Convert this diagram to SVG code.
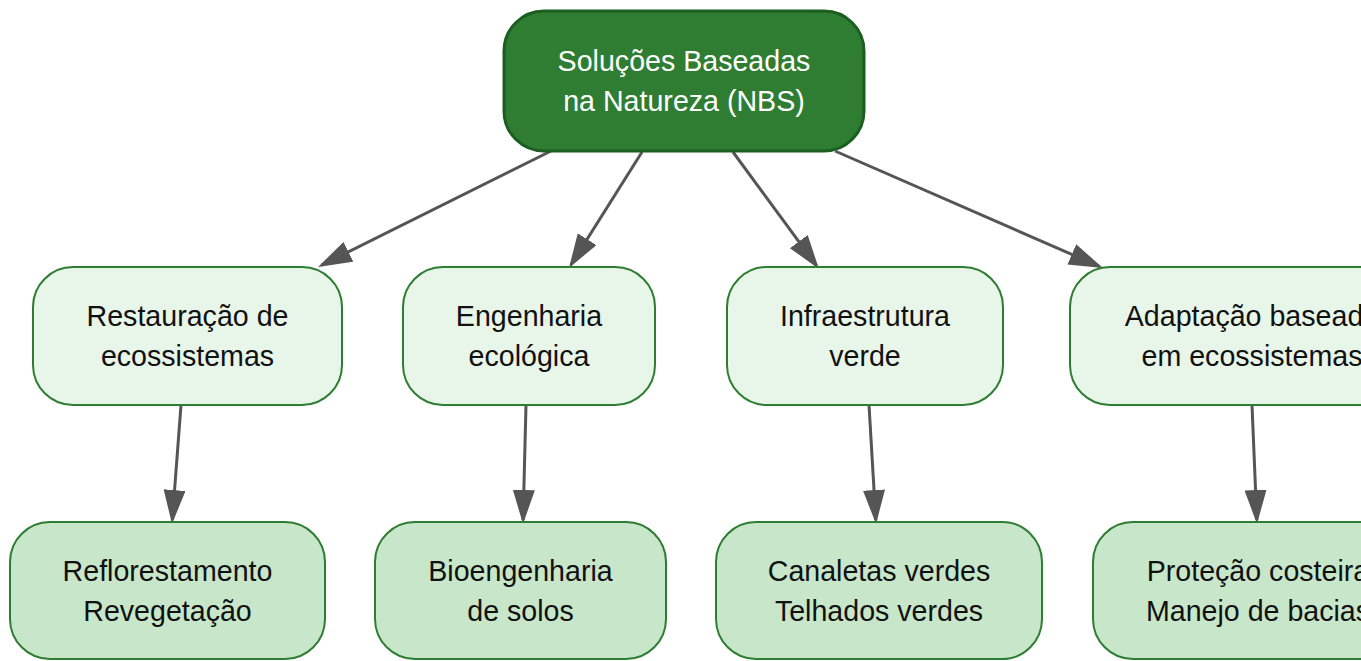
<svg xmlns="http://www.w3.org/2000/svg" width="1361" height="661" viewBox="0 0 1361 661">
<defs>
<style>
.root rect{fill:#2e7d32;stroke:#1b5e20;stroke-width:3}
.mid rect{fill:#e8f5e9;stroke:#2e7d32;stroke-width:2}
.leaf rect{fill:#c8e6c9;stroke:#2e7d32;stroke-width:2}
text{font-family:"Liberation Sans",Arial,sans-serif;font-size:28.6px;text-anchor:middle;fill:#111}
.root text{fill:#ffffff}
.edges path{fill:none;stroke:#555555;stroke-width:3}
</style>
<marker id="arr" viewBox="0 0 34 22" markerWidth="34" markerHeight="22" refX="30" refY="11" orient="auto" markerUnits="userSpaceOnUse">
<path d="M0,0 L34,11 L0,22 z" fill="#555555"/>
</marker>
</defs>
<rect width="1361" height="661" fill="#ffffff"/>
<g class="edges">
<path d="M551,151 L321.6,265.2" marker-end="url(#arr)"/>
<path d="M642,152 L571.1,264.6" marker-end="url(#arr)"/>
<path d="M733,152 L816.6,265.8" marker-end="url(#arr)"/>
<path d="M835,151 L1099.3,266.4" marker-end="url(#arr)"/>
<path d="M181,405 L172.3,520" marker-end="url(#arr)"/>
<path d="M526,405 L523.1,520" marker-end="url(#arr)"/>
<path d="M869,405 L875.8,520" marker-end="url(#arr)"/>
<path d="M1252,405 L1256.8,520" marker-end="url(#arr)"/>
</g>
<g id="nbs" class="root">
<rect x="504" y="11" width="360" height="140" rx="40" ry="40"/>
<text x="684" y="71">Soluções Baseadas</text>
<text x="684" y="111">na Natureza (NBS)</text>
</g>
<g id="restauracao" class="mid">
<rect x="33" y="267" width="309" height="138" rx="40" ry="40"/>
<text x="187.5" y="326">Restauração de</text>
<text x="187.5" y="366">ecossistemas</text>
</g>
<g id="engenharia" class="mid">
<rect x="403" y="267" width="252" height="138" rx="40" ry="40"/>
<text x="529" y="326">Engenharia</text>
<text x="529" y="366">ecológica</text>
</g>
<g id="infraestrutura" class="mid">
<rect x="727" y="267" width="276" height="138" rx="40" ry="40"/>
<text x="865" y="326">Infraestrutura</text>
<text x="865" y="366">verde</text>
</g>
<g id="adaptacao" class="mid">
<rect x="1070" y="267" width="364" height="138" rx="40" ry="40"/>
<text x="1252" y="326">Adaptação baseada</text>
<text x="1252" y="366">em ecossistemas</text>
</g>
<g id="reflorestamento" class="leaf">
<rect x="10" y="522" width="315" height="137" rx="40" ry="40"/>
<text x="167.5" y="581">Reflorestamento</text>
<text x="167.5" y="621">Revegetação</text>
</g>
<g id="bioengenharia" class="leaf">
<rect x="375" y="522" width="291" height="137" rx="40" ry="40"/>
<text x="520.5" y="581">Bioengenharia</text>
<text x="520.5" y="621">de solos</text>
</g>
<g id="canaletas" class="leaf">
<rect x="716" y="522" width="326" height="137" rx="40" ry="40"/>
<text x="879" y="581">Canaletas verdes</text>
<text x="879" y="621">Telhados verdes</text>
</g>
<g id="protecao" class="leaf">
<rect x="1093" y="522" width="330" height="137" rx="40" ry="40"/>
<text x="1258" y="581">Proteção costeira</text>
<text x="1258" y="621">Manejo de bacias</text>
</g>
</svg>
